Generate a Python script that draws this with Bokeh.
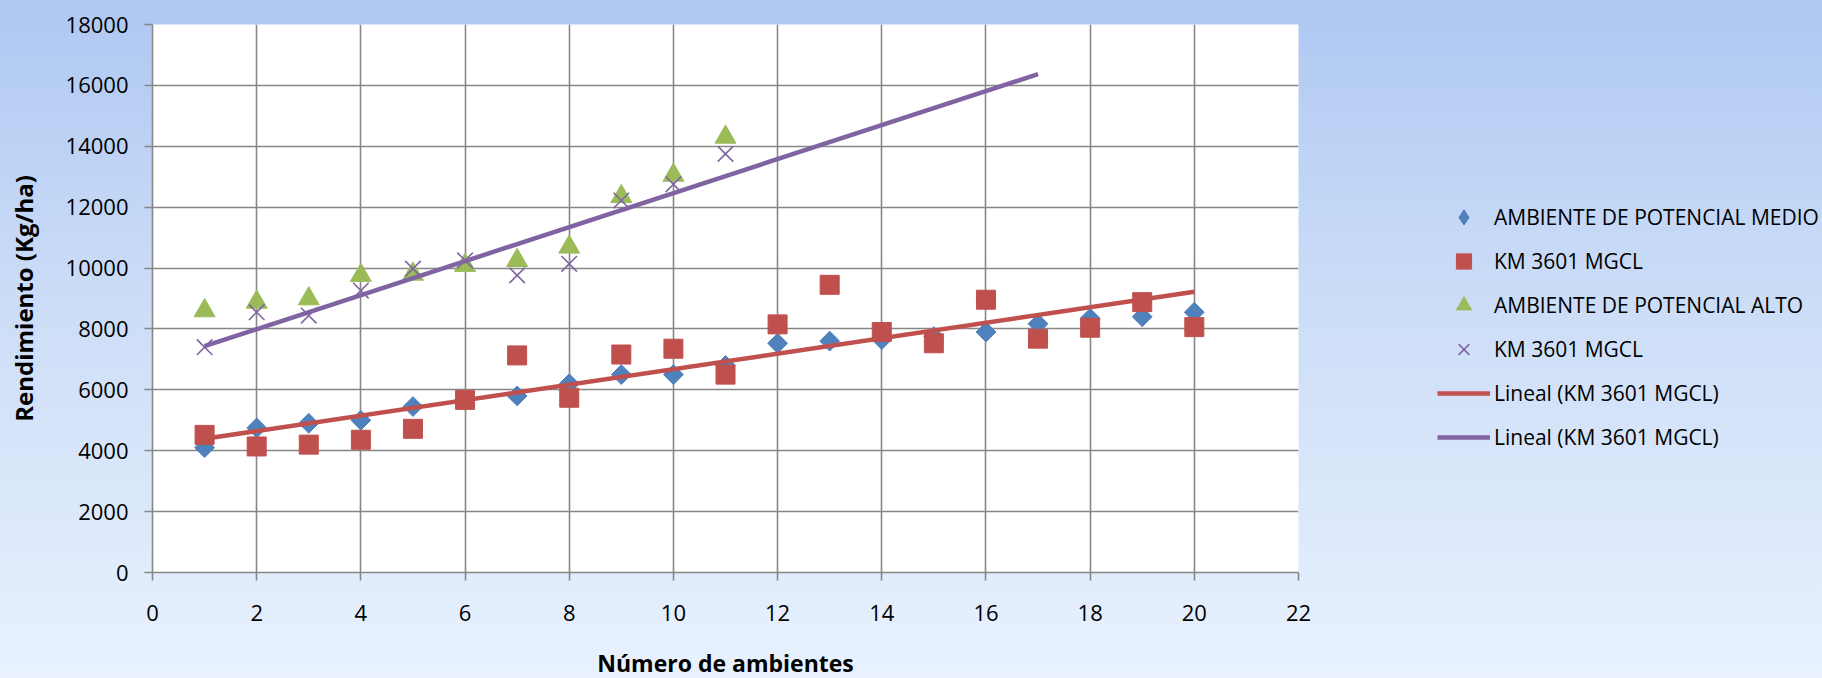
import numpy as np
from bokeh.plotting import figure
from bokeh.models import Legend, LegendItem, Range1d, SingleIntervalTicker
from bokeh.embed import file_html
from bokeh.resources import INLINE

# ---- data ----
x_medio = list(range(1, 21))
medio = [4100, 4750, 4900, 5000, 5450, 5650, 5800, 6200, 6500, 6500,
         6800, 7530, 7600, 7650, 7750, 7900, 8170, 8350, 8400, 8550]
x_km_medio = list(range(1, 21))
km_medio = [4520, 4140, 4200, 4360, 4720, 5670, 7130, 5740, 7160, 7350,
            6500, 8150, 9450, 7900, 7530, 8960, 7680, 8040, 8880, 8060]
x_alto = list(range(1, 12))
alto = [8600, 8880, 8990, 9760, 9800, 10090, 10250, 10690, 12350, 13050, 14300]
x_km_alto = list(range(1, 12))
km_alto = [7400, 8550, 8440, 9260, 9980, 10250, 9760, 10140, 12220, 12750, 13750]
forecast_forward = 6  # trendline of the purple series extended 6 periods

labels = ["AMBIENTE DE POTENCIAL MEDIO", "KM 3601 MGCL", "AMBIENTE DE POTENCIAL ALTO",
          "KM 3601 MGCL", "Lineal (KM 3601 MGCL)", "Lineal (KM 3601 MGCL)"]

BLUE, RED, GREEN, PURPLE = "#4F81BD", "#C0504D", "#9BBB59", "#8064A2"
GRID = "#878787"
FONT = "Open Sans"

# trendlines (least squares)
a1, b1 = np.polyfit(x_km_medio, km_medio, 1)
tx1 = [min(x_km_medio), max(x_km_medio)]
ty1 = [a1 * v + b1 for v in tx1]
a2, b2 = np.polyfit(x_km_alto, km_alto, 1)
tx2 = [min(x_km_alto), max(x_km_alto) + forecast_forward]
ty2 = [a2 * v + b2 for v in tx2]

p = figure(output_backend="svg", toolbar_location=None,
           frame_width=1146, frame_height=548,
           min_border_left=152, min_border_right=524, min_border_top=24, min_border_bottom=106,
           x_range=Range1d(0, 22), y_range=Range1d(0, 18000))
p.styles = {"background": "linear-gradient(to bottom, #AFC8F2 0%, #CCDDF7 45%, #E9F2FE 100%)"}
p.border_fill_color = None
p.background_fill_color = "white"
p.outline_line_color = None

p.xaxis.ticker = SingleIntervalTicker(interval=2)
p.yaxis.ticker = SingleIntervalTicker(interval=2000)
for g in (p.xgrid, p.ygrid):
    g.grid_line_color = GRID
    g.grid_line_width = 1.6
for ax in (p.xaxis, p.yaxis):
    ax.axis_line_color = GRID
    ax.axis_line_width = 1.6
    ax.major_tick_line_color = GRID
    ax.major_tick_line_width = 1.6
    ax.major_tick_out = 8
    ax.major_tick_in = 0
    ax.minor_tick_line_color = None
    ax.major_label_text_font = FONT
    ax.major_label_text_font_size = "22px"
    ax.major_label_text_color = "black"
    ax.axis_label_text_font = FONT
    ax.axis_label_text_font_style = "bold"
    ax.axis_label_text_font_size = "23px"
    ax.axis_label_text_color = "black"
p.yaxis.axis_label_text_font_size = "24px"
p.xaxis.major_label_standoff = 24
p.yaxis.major_label_standoff = 16
p.xaxis.axis_label = "Número de ambientes"
p.yaxis.axis_label = "Rendimiento (Kg/ha)"
p.xaxis.axis_label_standoff = 23
p.yaxis.axis_label_standoff = 23

# series drawn in the plot
r_medio = p.scatter(x_medio, medio, marker="square", angle=np.pi / 4, size=14,
                    fill_color=BLUE, line_color=BLUE)
r_km_medio = p.scatter(x_km_medio, km_medio, marker="square", size=19,
                       fill_color=RED, line_color=RED)
r_alto = p.scatter(x_alto, alto, marker="triangle", size=21, fill_color=GREEN, line_color=GREEN)
r_km_alto = p.scatter(x_km_alto, km_alto, marker="x", size=22, line_color=PURPLE, line_width=1.6)
r_t1 = p.line(tx1, ty1, line_color=RED, line_width=4.5)
r_t2 = p.line(tx2, ty2, line_color=PURPLE, line_width=4.5)

# legend-only symbol for the diamond series (not drawn in the plot)
l_medio = p.scatter([np.nan], [np.nan], marker="diamond", fill_color=BLUE, line_color=BLUE)

legend = Legend(items=[
    LegendItem(label=labels[0], renderers=[l_medio]),
    LegendItem(label=labels[1], renderers=[r_km_medio]),
    LegendItem(label=labels[2], renderers=[r_alto]),
    LegendItem(label=labels[3], renderers=[r_km_alto]),
    LegendItem(label=labels[4], renderers=[r_t1]),
    LegendItem(label=labels[5], renderers=[r_t2]),
], location=(139, 116))
legend.glyph_width = 53
legend.glyph_height = 38
legend.label_height = 24
legend.spacing = 6
legend.label_standoff = 4
legend.padding = 0
legend.margin = 0
legend.border_line_color = None
legend.background_fill_alpha = 0
legend.label_text_font = FONT
legend.label_text_font_size = "21px"
legend.label_text_color = "black"
p.add_layout(legend, "right")

open("out.html", "w").write(file_html(p, INLINE))
